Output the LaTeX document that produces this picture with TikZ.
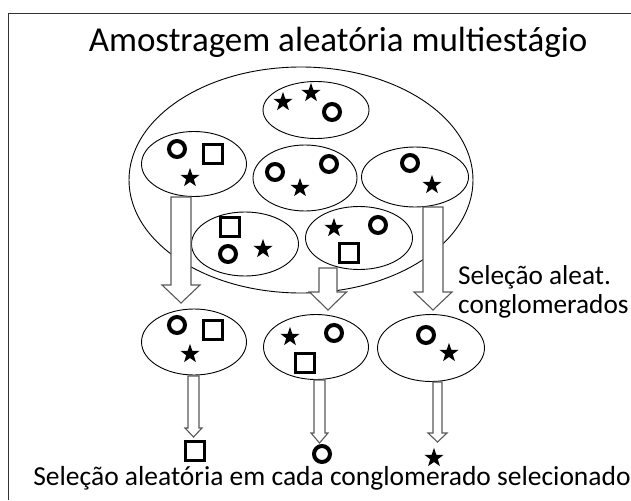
\documentclass[tikz,border=0pt]{standalone}
\usepackage{fontspec}
\setmainfont{Carlito}
\usetikzlibrary{shapes.geometric}
\tikzset{
  clu/.style={draw, ellipse, line width=0.9pt, inner sep=0pt},
  circ/.style={draw, circle, line width=4pt, minimum size=16pt, inner sep=0pt},
  sq/.style={draw, rectangle, line width=2.4pt, minimum size=19pt, inner sep=0pt},
  st/.style={star, star points=5, star point ratio=2.5, fill=black, minimum size=20pt, inner sep=0pt},
  barrow/.style={draw=black!65, fill=white, line width=1.1pt, line join=miter},
  lbl/.style={font=\fontsize{27.3}{29}\selectfont, anchor=base west, inner sep=0pt}
}
\newcommand\blockarr[6]{%
  \draw[barrow] (#1-#4,#2) -- (#1+#4,#2) -- (#1+#4,#3-#6) -- (#1+#5,#3-#6) -- (#1,#3) -- (#1-#5,#3-#6) -- (#1-#4,#3-#6) -- cycle;}
\begin{document}
\begin{tikzpicture}[x=1pt,y=-1pt]
\useasboundingbox (0,0) rectangle (631,500);
% frame
\draw[line width=1.5pt, black!80] (8.5,500) -- (8.5,13.5) -- (631,13.5);
% title
\node[font=\fontsize{35}{40}\selectfont] (title) at (338,42) {Amostragem aleatória multiestágio};
% big ellipse
\node[clu, minimum width=344pt, minimum height=226pt] (pop) at (301,180) {};
% clusters
\node[clu, minimum width=106pt, minimum height=57pt] (c1) at (316,110) {};
\node[clu, minimum width=105pt, minimum height=65pt] (c2) at (194,164) {};
\node[clu, minimum width=104pt, minimum height=66pt] (c3) at (305,178) {};
\node[clu, minimum width=107pt, minimum height=60pt] (c4) at (415,177) {};
\node[clu, minimum width=107pt, minimum height=64pt] (c5) at (245,244) {};
\node[clu, minimum width=107pt, minimum height=63pt] (c6) at (359,238) {};
% symbols in clusters
\node[st] (s11) at (283,102) {};
\node[st] (s12) at (311,93) {};
\node[circ] (o11) at (332,112) {};
\node[circ] (o21) at (177,149) {};
\node[sq] (q21) at (213,154) {};
\node[st] (s21) at (190,178) {};
\node[circ] (o31) at (275,172) {};
\node[st] (s31) at (300,188) {};
\node[circ] (o32) at (329,164) {};
\node[circ] (o41) at (410,163) {};
\node[st] (s41) at (432,185) {};
\node[sq] (q51) at (230,227) {};
\node[circ] (o51) at (228,254) {};
\node[st] (s51) at (263,249) {};
\node[st] (s61) at (334,228) {};
\node[circ] (o61) at (378,225) {};
\node[sq] (q61) at (349,253) {};
% big arrows
\blockarr{181}{197}{303}{10}{19}{18}
\blockarr{328}{268}{310}{9}{18.5}{18}
\blockarr{433}{207}{310}{10}{19}{18}
% label
\node[lbl] (lab1) at (458,284) {Seleção aleat.};
\node[lbl] (lab2) at (458,313) {conglomerados};
% selected clusters
\node[clu, minimum width=105pt, minimum height=66pt] (b1) at (194,342) {};
\node[clu, minimum width=105pt, minimum height=65pt] (b2) at (316,347) {};
\node[clu, minimum width=107pt, minimum height=67pt] (b3) at (431,348) {};
\node[circ] (bo1) at (177,325) {};
\node[sq] (bq1) at (213,330) {};
\node[st] (bs1) at (190,354) {};
\node[st] (bs2) at (290,337) {};
\node[circ] (bo2) at (334,333) {};
\node[sq] (bq2) at (305,363) {};
\node[circ] (bo3) at (426,335) {};
\node[st] (bs3) at (449,353) {};
% small arrows
\blockarr{193.5}{376}{437}{5.5}{8.5}{9}
\blockarr{319.5}{380}{443}{5.5}{8.5}{10}
\blockarr{437.5}{382}{442}{4.5}{9.5}{9}
% final elements
\node[sq] (fq) at (195,451) {};
\node[circ] (fo) at (322,454) {};
\node[st] (fs) at (434,458) {};
\node[font=\fontsize{27.5}{32}\selectfont, anchor=base, inner sep=0pt] (bottom) at (332,485) {Seleção aleatória em cada conglomerado selecionado};
\end{tikzpicture}
\end{document}
